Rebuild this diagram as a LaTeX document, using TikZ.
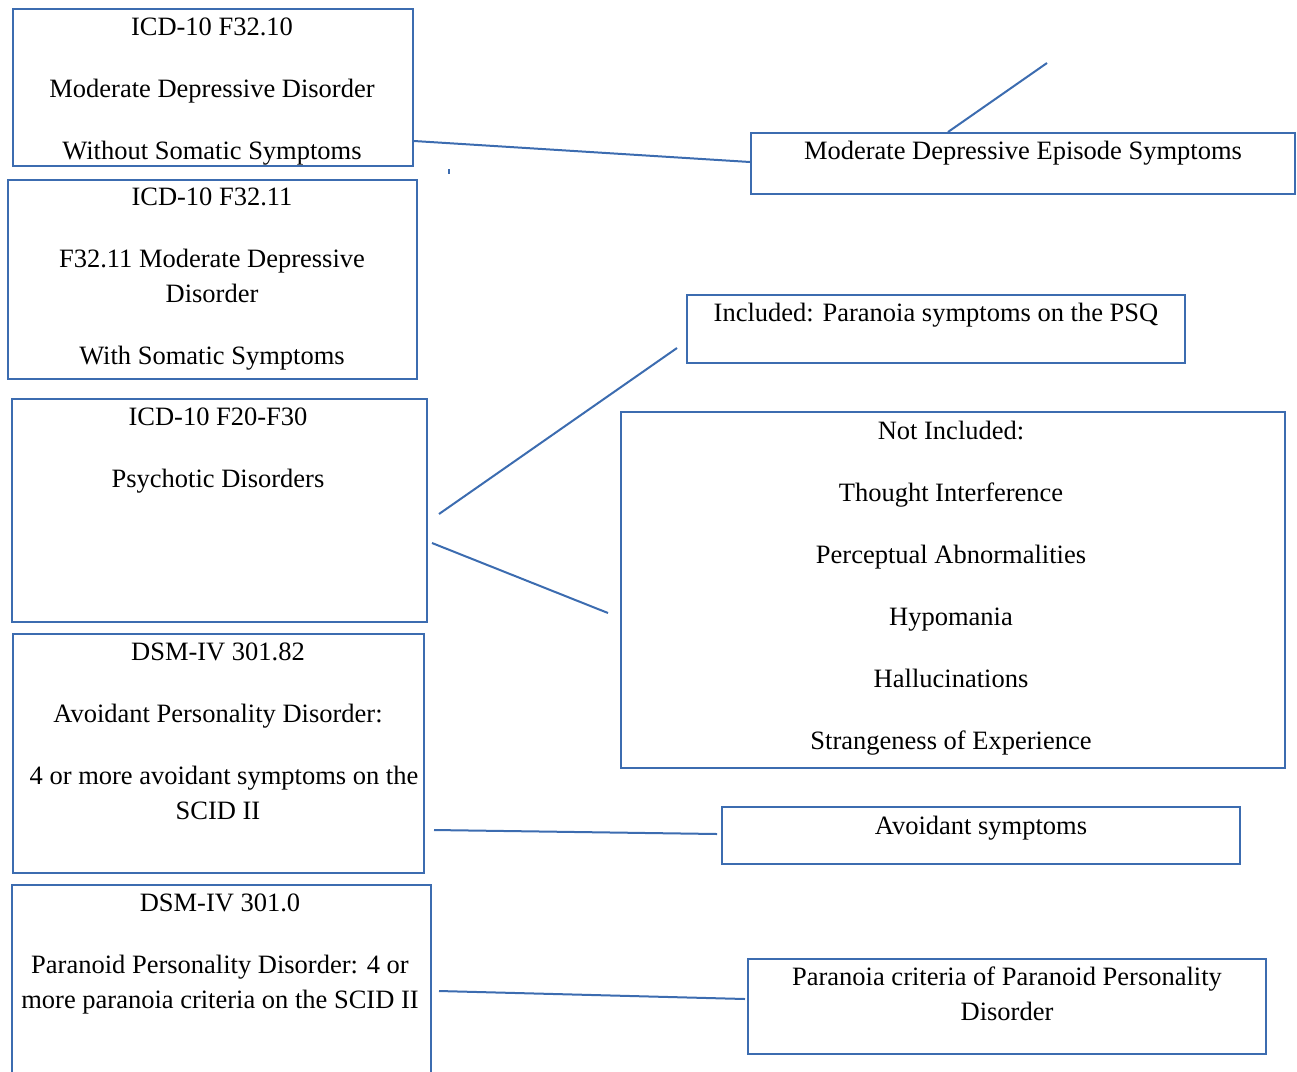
\documentclass[tikz,border=0pt]{standalone}
\usepackage{fontspec}
\setmainfont{Liberation Serif}
\usetikzlibrary{calc}
\definecolor{boxblue}{RGB}{60,108,176}

\begin{document}
\begin{tikzpicture}[x=1pt,y=-1pt,
  box/.style={draw=boxblue,line width=2pt,anchor=north west,inner sep=0pt},
  txt/.style={anchor=north,align=center,inner sep=0pt,font=\fontsize{26.5}{35}\selectfont},
  link/.style={draw=boxblue,line width=2pt}]
  \useasboundingbox (0,0) rectangle (1297,1071);
  \clip (0,0) rectangle (1297,1071);
  % left column
  \node[box,minimum width=400,minimum height=157] (f3210) at (12,8) {};
  \node[box,minimum width=409,minimum height=199] (f3211) at (7,179) {};
  \node[box,minimum width=415,minimum height=223] (psy) at (11,398) {};
  \node[box,minimum width=411,minimum height=239] (apd) at (12,633) {};
  \node[box,minimum width=419,minimum height=206] (ppd) at (11,884) {};
  \node[txt] (f3210-t) at (212,18) {ICD-10 F32.10\\[27pt]Moderate Depressive Disorder\\[27pt]Without Somatic Symptoms};
  \node[txt] (f3211-t) at (212,188) {ICD-10 F32.11\\[27pt]F32.11 Moderate Depressive\\Disorder\\[27pt]With Somatic Symptoms};
  \node[txt] (psy-t) at (218,408) {ICD-10 F20-F30\\[27pt]Psychotic Disorders};
  \node[txt] (apd-t) at (218,643) {DSM-IV 301.82\\[27pt]Avoidant Personality Disorder:\\[27pt]\hspace*{12pt}4 or more avoidant symptoms on the\\SCID II};
  \node[txt] (ppd-t) at (220,894) {DSM-IV 301.0\\[27pt]Paranoid Personality Disorder: 4 or\\more paranoia criteria on the SCID II};
  % right column
  \node[box,minimum width=544,minimum height=61] (mdes) at (750,132) {};
  \node[box,minimum width=498,minimum height=68] (incl) at (686,294) {};
  \node[box,minimum width=664,minimum height=356] (notincl) at (620,411) {};
  \node[box,minimum width=518,minimum height=57] (avs) at (721,806) {};
  \node[box,minimum width=518,minimum height=95] (pcrit) at (747,958) {};
  \node[txt] (mdes-t) at (1023,141) {Moderate Depressive Episode Symptoms};
  \node[txt] (incl-t) at (936,303) {Included: Paranoia symptoms on the PSQ};
  \node[txt] (notincl-t) at (951,421) {Not Included:\\[27pt]Thought Interference\\[27pt]Perceptual Abnormalities\\[27pt]Hypomania\\[27pt]Hallucinations\\[27pt]Strangeness of Experience};
  \node[txt] (avs-t) at (981,816) {Avoidant symptoms};
  \node[txt] (pcrit-t) at (1007,967) {Paranoia criteria of Paranoid Personality\\Disorder};
  % links
  \coordinate (mdes-end) at (1047,63);
  \draw[link] ($(f3210.north east)+(0,133)$) -- ($(mdes.north west)+(0,30)$);
  \draw[link] ($(mdes.north west)+(198,0)$) -- (mdes-end);
  \draw[link,line width=1.5pt] (449,169) -- (449,174);
  \draw[link] ($(psy.north east)+(11,116)$) -- ($(incl.north west)+(-9,54)$);
  \draw[link] ($(psy.north east)+(4,145)$) -- ($(notincl.north west)+(-12,202)$);
  \draw[link] ($(apd.north east)+(9,197)$) -- ($(avs.north west)+(-4,28)$);
  \draw[link] ($(ppd.north east)+(7,107)$) -- ($(pcrit.north west)+(-2,41)$);
\end{tikzpicture}
\end{document}
